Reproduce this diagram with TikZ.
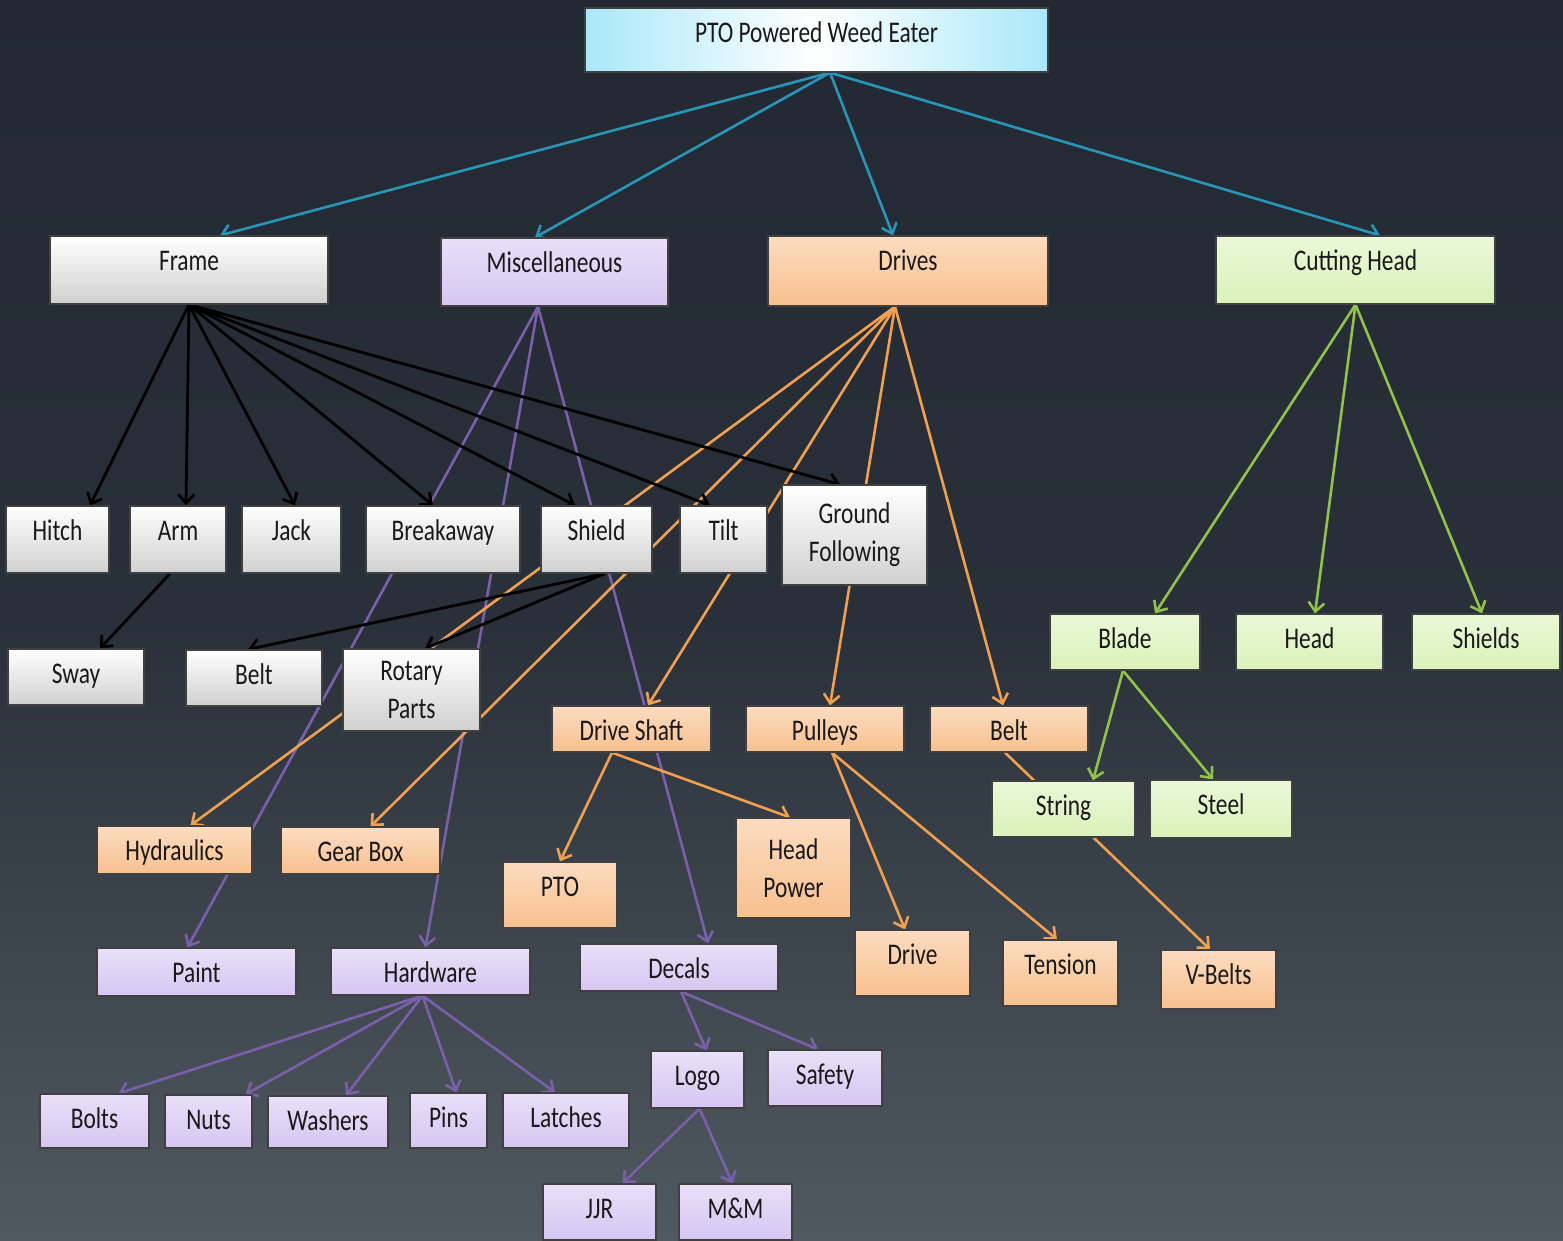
\documentclass[tikz,border=0pt]{standalone}
\usepackage{fontspec}
\setmainfont{Carlito}[FakeStretch=0.78]
\usepackage{xcolor}
\usepackage{tikz}
\usetikzlibrary{arrows.meta, calc}

\definecolor{bgtop}{RGB}{34,41,50}
\definecolor{bgbot}{RGB}{80,88,96}
\definecolor{rootc}{RGB}{170,232,250}
\definecolor{framec}{RGB}{208,208,208}
\definecolor{miscc}{RGB}{214,198,242}
\definecolor{drivec}{RGB}{248,192,142}
\definecolor{cutc}{RGB}{218,242,185}
\definecolor{rootl}{RGB}{40,150,185}
\definecolor{miscl}{RGB}{122,96,170}
\definecolor{drivel}{RGB}{242,160,78}
\definecolor{cutl}{RGB}{145,195,72}

\pgfdeclarelayer{back}
\pgfdeclarelayer{lines}
\pgfsetlayers{back,lines,main}

\tikzset{
  partbox/.style={draw=black!75, line width=1.2pt, inner xsep=3pt, inner ysep=0pt,
    text=black!90, font=\fontsize{30}{38}\selectfont, align=center, text height=34pt},
  sz/.style 2 args={minimum width=#1pt, minimum height=#2pt, text depth={#2pt-34pt}},
  twoline/.style={text height=, text depth=},
  rootpart/.style={partbox, left color=rootc, right color=rootc, middle color=white},
  framepart/.style={partbox, top color=white, bottom color=framec},
  miscpart/.style={partbox, top color=miscc!55, bottom color=miscc},
  drivepart/.style={partbox, top color=drivec!55, bottom color=drivec},
  cutpart/.style={partbox, top color=cutc!55, bottom color=cutc},
  link/.style={line width=2.6pt, -{Straight Barb[length=9pt,width=16pt]}},
  rootline/.style={link, rootl},
  frameline/.style={link, black, line width=2.8pt},
  miscline/.style={link, miscl},
  driveline/.style={link, drivel},
  cutline/.style={link, cutl}
}

\begin{document}
\begin{tikzpicture}[x=1pt, y=-1pt]
    \useasboundingbox (0,0) rectangle (1563,1240);
    \begin{pgfonlayer}{back}
      \shade[top color=bgtop, bottom color=bgbot, middle color=bgtop!85!bgbot] (0,0) rectangle (1563,1240);
    \end{pgfonlayer}

    % Top level
    \node[rootpart, sz={463}{64}] (root) at (816.5,40) {PTO Powered Weed Eater};
    \node[framepart, sz={278}{68}] (frame) at (189,270) {Frame};
    \node[miscpart, sz={227}{68}] (misc) at (554.5,272) {Miscellaneous};
    \node[drivepart, sz={280}{70}] (drives) at (908,271) {Drives};
    \node[cutpart, sz={279}{68}] (cut) at (1355.5,270) {Cutting Head};

    % Frame parts
    \node[framepart, sz={103}{67}] (hitch) at (57.5,539.5) {Hitch};
    \node[framepart, sz={96}{67}] (arm) at (178,539.5) {Arm};
    \node[framepart, sz={99}{67}] (jack) at (291.5,539.5) {Jack};
    \node[framepart, sz={154}{67}] (breakaway) at (443,539.5) {Breakaway};
    \node[framepart, sz={111}{67}] (shield) at (596.5,539.5) {Shield};
    \node[framepart, sz={87}{67}] (tilt) at (723.5,539.5) {Tilt};
    \node[framepart, sz={145}{100}, twoline] (ground) at (854.5,535) {Ground\\Following};
    \node[framepart, sz={136}{56}] (sway) at (76,677) {Sway};
    \node[framepart, sz={136}{56}] (fbelt) at (254,678) {Belt};
    \node[framepart, sz={137}{82}, twoline] (rotary) at (411.5,690) {Rotary\\Parts};

    % Drive parts
    \node[drivepart, sz={159}{46}] (shaft) at (631.5,729) {Drive Shaft};
    \node[drivepart, sz={158}{46}] (pulleys) at (825,729) {Pulleys};
    \node[drivepart, sz={158}{46}] (dbelt) at (1009,729) {Belt};
    \node[drivepart, sz={155}{48}] (hydraulics) at (174.5,850) {Hydraulics};
    \node[drivepart, sz={159}{47}] (gearbox) at (360.5,850.5) {Gear Box};
    \node[drivepart, sz={114}{66}] (pto) at (560,895) {PTO};
    \node[drivepart, sz={115}{100}, twoline] (headpower) at (793.5,868) {Head\\Power};
    \node[drivepart, sz={115}{66}] (drive) at (912.5,963) {Drive};
    \node[drivepart, sz={115}{66}] (tension) at (1060.5,973) {Tension};
    \node[drivepart, sz={115}{59}] (vbelts) at (1218.5,979.5) {V-Belts};

    % Cutting head parts
    \node[cutpart, sz={150}{56}] (blade) at (1125,642) {Blade};
    \node[cutpart, sz={147}{56}] (head) at (1309.5,642) {Head};
    \node[cutpart, sz={148}{56}] (shields) at (1486,642) {Shields};
    \node[cutpart, sz={143}{56}] (string) at (1063.5,809) {String};
    \node[cutpart, sz={142}{58}] (steel) at (1221,809) {Steel};

    % Misc parts
    \node[miscpart, sz={199}{48}] (paint) at (196.5,972) {Paint};
    \node[miscpart, sz={199}{47}] (hardware) at (430.5,971.5) {Hardware};
    \node[miscpart, sz={198}{47}] (decals) at (679,967.5) {Decals};
    \node[miscpart, sz={93}{57}] (logo) at (697.5,1079.5) {Logo};
    \node[miscpart, sz={114}{56}] (safety) at (825,1078) {Safety};
    \node[miscpart, sz={109}{54}] (bolts) at (94.5,1121) {Bolts};
    \node[miscpart, sz={87}{53}] (nuts) at (208.5,1121.5) {Nuts};
    \node[miscpart, sz={120}{52}] (washers) at (328,1122) {Washers};
    \node[miscpart, sz={77}{55}] (pins) at (448.5,1120.5) {Pins};
    \node[miscpart, sz={126}{55}] (latches) at (566,1120.5) {Latches};
    \node[miscpart, sz={113}{56}] (jjr) at (599.5,1212) {JJR};
    \node[miscpart, sz={113}{56}] (mm) at (735.5,1212) {M\&M};

    \begin{pgfonlayer}{lines}
    % Links from the top
    \draw[rootline] ([xshift=13.5pt]root.south) -- ([xshift=31pt]frame.north);
    \draw[rootline] ([xshift=13.5pt]root.south) -- ([xshift=-19.5pt]misc.north);
    \draw[rootline] ([xshift=13.5pt]root.south) -- ([xshift=-15pt]drives.north);
    \draw[rootline] ([xshift=13.5pt]root.south) -- ([xshift=24.5pt]cut.north);

    % Misc links
    \draw[miscline] ([xshift=-16.5pt]misc.south) -- ([xshift=-9pt]paint.north);
    \draw[miscline] ([xshift=-16.5pt]misc.south) -- ([xshift=-5pt]hardware.north);
    \draw[miscline] ([xshift=-16.5pt]misc.south) -- ([xshift=29pt]decals.north);
    \draw[miscline] ([xshift=-8pt]hardware.south) -- ([xshift=24pt]bolts.north);
    \draw[miscline] ([xshift=-8pt]hardware.south) -- ([xshift=37pt]nuts.north);
    \draw[miscline] ([xshift=-8pt]hardware.south) -- ([xshift=18pt]washers.north);
    \draw[miscline] ([xshift=-8pt]hardware.south) -- ([xshift=8pt]pins.north);
    \draw[miscline] ([xshift=-8pt]hardware.south) -- ([xshift=-11pt]latches.north);
    \draw[miscline] ([xshift=2pt]decals.south) -- ([xshift=9pt]logo.north);
    \draw[miscline] ([xshift=2pt]decals.south) -- ([xshift=-7pt]safety.north);
    \draw[miscline] ([xshift=2pt]logo.south) -- ([xshift=23pt]jjr.north);
    \draw[miscline] ([xshift=2pt]logo.south) -- ([xshift=-3pt]mm.north);

    % Drive links
    \draw[driveline] ([xshift=-13pt]drives.south) -- ([xshift=16pt]hydraulics.north);
    \draw[driveline] ([xshift=-13pt]drives.south) -- ([xshift=10pt]gearbox.north);
    \draw[driveline] ([xshift=-13pt]drives.south) -- ([xshift=16.5pt]shaft.north);
    \draw[driveline] ([xshift=-13pt]drives.south) -- ([xshift=5pt]pulleys.north);
    \draw[driveline] ([xshift=-13pt]drives.south) -- ([xshift=-6pt]dbelt.north);
    \draw[driveline] ([xshift=-19.5pt]shaft.south) -- (pto.north);
    \draw[driveline] ([xshift=-19.5pt]shaft.south) -- ([xshift=-3.5pt]headpower.north);
    \draw[driveline] ([xshift=7pt]pulleys.south) -- ([xshift=-7.5pt]drive.north);
    \draw[driveline] ([xshift=7pt]pulleys.south) -- ([xshift=-3.5pt]tension.north);
    \draw[driveline] ([xshift=-4pt]dbelt.south) -- ([xshift=-8.5pt]vbelts.north);

    % Frame links
    \draw[frameline] (frame.south) -- ([xshift=32.5pt]hitch.north);
    \draw[frameline] (frame.south) -- ([xshift=8pt]arm.north);
    \draw[frameline] (frame.south) -- ([xshift=3.5pt]jack.north);
    \draw[frameline] (frame.south) -- ([xshift=-10pt]breakaway.north);
    \draw[frameline] (frame.south) -- ([xshift=-21.5pt]shield.north);
    \draw[frameline] (frame.south) -- ([xshift=-13.5pt]tilt.north);
    \draw[frameline] (frame.south) -- ([xshift=-14.5pt]ground.north);
    \draw[frameline] ([xshift=-8pt]arm.south) -- ([xshift=24pt]sway.north);
    \draw[frameline] ([xshift=8.5pt]shield.south) -- ([xshift=-6pt]fbelt.north);
    \draw[frameline] ([xshift=8.5pt]shield.south) -- ([xshift=13.5pt]rotary.north);

    % Cutting head links
    \draw[cutline] (cut.south) -- ([xshift=30pt]blade.north);
    \draw[cutline] (cut.south) -- ([xshift=5.5pt]head.north);
    \draw[cutline] (cut.south) -- ([xshift=-4pt]shields.north);
    \draw[cutline] ([xshift=-2pt]blade.south) -- ([xshift=29.5pt]string.north);
    \draw[cutline] ([xshift=-2pt]blade.south) -- ([xshift=-8pt]steel.north);
    \end{pgfonlayer}
\end{tikzpicture}
\end{document}
